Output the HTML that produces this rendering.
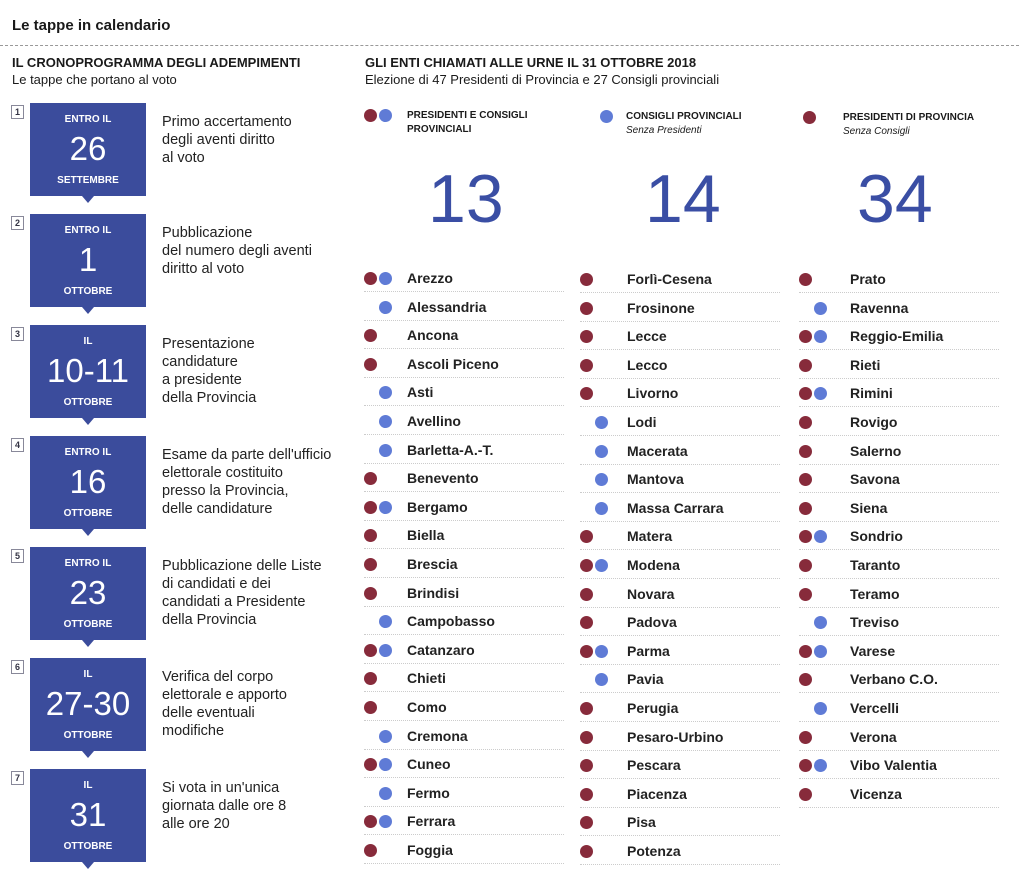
<!DOCTYPE html>
<html><head><meta charset="utf-8"><style>
body{margin:0;width:1019px;height:869px;background:#fff;position:relative;font-family:"Liberation Sans",sans-serif;color:#1a1a1a;overflow:hidden}
.a{position:absolute;white-space:nowrap}
.box{position:absolute;left:30px;width:116px;height:93px;background:#3b4c9c;color:#fff;text-align:center}
.box:after{content:"";position:absolute;left:52px;bottom:-7px;border-left:6px solid transparent;border-right:6px solid transparent;border-top:7px solid #3b4c9c}
.box .t{position:absolute;top:11px;width:100%;font-size:10px;font-weight:bold}
.box .n{position:absolute;top:27px;width:100%;font-size:33px;line-height:38px}
.box .b{position:absolute;top:72px;width:100%;font-size:10px;font-weight:bold}
.num{position:absolute;left:11px;width:11px;height:12px;border:1px solid #889;font-size:9px;font-weight:bold;text-align:center;line-height:12px;color:#334}
.desc{position:absolute;left:162px;font-size:14.5px;line-height:18px;color:#222}
.dot{position:absolute;width:13px;height:13px;border-radius:50%}
.r{background:#872b3b}.bl{background:#5f7bd6}
.it{position:absolute;font-size:14px;font-weight:bold;color:#222}
.ln{position:absolute;height:0;border-top:1px dotted #ccc}
.big{position:absolute;font-size:68px;color:#3a4ea4;top:160px}
</style></head><body>
<div class="a" style="left:12px;top:17px;font-size:15px;font-weight:bold">Le tappe in calendario</div>
<div class="a" style="left:0;top:45px;width:1019px;border-top:1px dashed #999"></div>
<div class="a" style="left:12px;top:55px;font-size:13px;font-weight:bold">IL CRONOPROGRAMMA DEGLI ADEMPIMENTI</div>
<div class="a" style="left:12px;top:72px;font-size:13px">Le tappe che portano al voto</div>
<div class="a" style="left:365px;top:55px;font-size:13px;font-weight:bold">GLI ENTI CHIAMATI ALLE URNE IL 31 OTTOBRE 2018</div>
<div class="a" style="left:365px;top:72px;font-size:13px">Elezione di 47 Presidenti di Provincia e 27 Consigli provinciali</div>

<div class="dot r" style="left:364px;top:109px"></div><div class="dot bl" style="left:379px;top:109px"></div>
<div class="a" style="left:407px;top:109px;font-size:10px;font-weight:bold;line-height:14px">PRESIDENTI E CONSIGLI<br>PROVINCIALI</div>
<div class="dot bl" style="left:600px;top:110px"></div>
<div class="a" style="left:626px;top:110px;font-size:10px;line-height:14px"><b>CONSIGLI PROVINCIALI</b><br><i>Senza Presidenti</i></div>
<div class="dot r" style="left:803px;top:111px"></div>
<div class="a" style="left:843px;top:111px;font-size:10px;line-height:14px"><b>PRESIDENTI DI PROVINCIA</b><br><i>Senza Consigli</i></div>
<div class="big" style="left:428px">13</div>
<div class="big" style="left:645px">14</div>
<div class="big" style="left:857px">34</div>

<div id="L"></div>
<script>
var steps=[["ENTRO IL","26","SETTEMBRE",["Primo accertamento","degli aventi diritto","al voto"]],
["ENTRO IL","1","OTTOBRE",["Pubblicazione","del numero degli aventi","diritto al voto"]],
["IL","10-11","OTTOBRE",["Presentazione","candidature","a presidente","della Provincia"]],
["ENTRO IL","16","OTTOBRE",["Esame da parte dell'ufficio","elettorale costituito","presso la Provincia,","delle candidature"]],
["ENTRO IL","23","OTTOBRE",["Pubblicazione delle Liste","di candidati e dei","candidati a Presidente","della Provincia"]],
["IL","27-30","OTTOBRE",["Verifica del corpo","elettorale e apporto","delle eventuali","modifiche"]],
["IL","31","OTTOBRE",["Si vota in un'unica","giornata dalle ore 8","alle ore 20"]]];
var h="";
steps.forEach(function(s,i){var y=103+i*111;
h+='<div class="num" style="top:'+(y+2)+'px">'+(i+1)+'</div>';
h+='<div class="box" style="top:'+y+'px"><div class="t">'+s[0]+'</div><div class="n">'+s[1]+'</div><div class="b">'+s[2]+'</div></div>';
h+='<div class="desc" style="top:'+(y+10)+'px">'+s[3].join("<br>")+'</div>';});
var cols=[[364,407,"Arezzo:RB,Alessandria:B,Ancona:R,Ascoli Piceno:R,Asti:B,Avellino:B,Barletta-A.-T.:B,Benevento:R,Bergamo:RB,Biella:R,Brescia:R,Brindisi:R,Campobasso:B,Catanzaro:RB,Chieti:R,Como:R,Cremona:B,Cuneo:RB,Fermo:B,Ferrara:RB,Foggia:R"],
[580,627,"Forlì-Cesena:R,Frosinone:R,Lecce:R,Lecco:R,Livorno:R,Lodi:B,Macerata:B,Mantova:B,Massa Carrara:B,Matera:R,Modena:RB,Novara:R,Padova:R,Parma:RB,Pavia:B,Perugia:R,Pesaro-Urbino:R,Pescara:R,Piacenza:R,Pisa:R,Potenza:R"],
[799,850,"Prato:R,Ravenna:B,Reggio-Emilia:RB,Rieti:R,Rimini:RB,Rovigo:R,Salerno:R,Savona:R,Siena:R,Sondrio:RB,Taranto:R,Teramo:R,Treviso:B,Varese:RB,Verbano C.O.:R,Vercelli:B,Verona:R,Vibo Valentia:RB,Vicenza:R"]];
cols.forEach(function(c,ci){c[2].split(",").forEach(function(e,i){var p=e.split(":");var y=272+i*28.6+(ci?1:0);
if(p[1].indexOf("R")>=0)h+='<div class="dot r" style="left:'+c[0]+'px;top:'+y+'px"></div>';
if(p[1].indexOf("B")>=0)h+='<div class="dot bl" style="left:'+(c[0]+15)+'px;top:'+y+'px"></div>';
h+='<div class="it" style="left:'+c[1]+'px;top:'+(y-2)+'px">'+p[0]+'</div>';
h+='<div class="ln" style="left:'+(c[0])+'px;width:200px;top:'+(y+19)+'px"></div>';});});
document.getElementById("L").innerHTML=h;
</script>
</body></html>
